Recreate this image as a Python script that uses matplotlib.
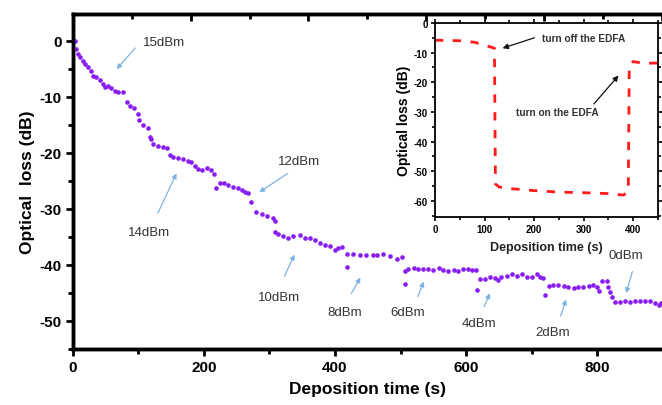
import matplotlib
matplotlib.use("Agg")
import matplotlib.pyplot as plt
from matplotlib.ticker import MultipleLocator, NullFormatter

plt.rcParams['font.family'] = ['Liberation Sans', 'DejaVu Sans']
plt.rcParams['axes.unicode_minus'] = False

# main curve: optical loss vs deposition time
time_s = [1.5, 3, 5.6, 8.1, 10.7, 14.8, 18.3, 23.4, 28.5, 31, 36, 41, 46, 49, 54, 59,
          64, 69, 77, 82, 87, 94, 99, 101, 107, 115, 118, 119, 123, 130, 138, 143,
          148, 153, 161, 168, 176, 181, 186, 191, 197, 204, 211, 216, 218, 224, 231,
          237, 245, 252, 258, 263, 267, 272, 280, 288, 296, 305, 308, 308, 313, 321,
          329, 336, 347, 354, 362, 369, 377, 385, 392, 400, 405, 410, 418, 418, 428,
          438, 448, 458, 464, 474, 484, 494, 502, 507, 507, 512, 520, 527, 535, 542,
          550, 558, 565, 573, 581, 588, 596, 603, 609, 615, 617, 621, 629, 637, 644,
          649, 654, 662, 670, 677, 685, 693, 700, 708, 713, 718, 721, 726, 733, 741,
          749, 756, 764, 771, 779, 787, 794, 800, 803, 807, 815, 817, 820, 822, 827,
          835, 843, 850, 858, 866, 873, 881, 889, 894, 897]
loss_db = [-0.1, -0.05, -1.4, -2.3, -2.9, -3.6, -4.1, -4.7, -5.4, -6.2, -6.5, -7.0,
           -7.7, -8.3, -8.0, -8.4, -9.0, -9.2, -9.2, -10.9, -11.6, -12.0, -13.0, -14.1,
           -15.1, -15.6, -17.1, -17.5, -18.4, -18.7, -18.9, -19.1, -20.3, -20.7, -20.9,
           -21.1, -21.5, -21.7, -22.3, -22.9, -23.0, -22.7, -23.0, -23.7, -26.2, -25.4,
           -25.4, -25.8, -26.1, -26.3, -26.6, -26.9, -27.2, -28.8, -30.6, -30.9, -31.2,
           -31.7, -32.1, -34.2, -34.5, -34.8, -35.1, -34.9, -34.6, -35.1, -35.2, -35.5,
           -36.1, -36.4, -36.7, -37.4, -37.0, -36.8, -38.0, -40.4, -38.0, -38.3, -38.3,
           -38.2, -38.3, -38.0, -38.4, -38.9, -38.6, -41.0, -43.4, -40.7, -40.6, -40.7,
           -40.7, -40.7, -40.9, -40.5, -40.9, -41.0, -40.9, -41.0, -40.8, -40.7, -40.9,
           -40.9, -44.5, -42.5, -42.5, -42.2, -42.3, -42.7, -42.2, -41.9, -41.7, -41.9,
           -41.7, -42.2, -42.1, -41.7, -42.2, -42.3, -45.3, -43.7, -43.5, -43.5, -43.7,
           -44.0, -44.2, -44.0, -44.0, -43.7, -43.5, -44.0, -44.6, -42.8, -42.8, -44.0,
           -44.9, -45.8, -46.7, -46.7, -46.5, -46.6, -46.5, -46.4, -46.4, -46.5, -46.8,
           -47.1, -46.8]

# power labels: text position, arrow start, arrow tip
power_labels = ["15dBm", "14dBm", "12dBm", "10dBm", "8dBm", "6dBm", "4dBm", "2dBm", "0dBm"]
label_xy = [(107, -0.2), (84, -34.1), (313, -21.4), (283, -45.7), (389, -48.4),
            (484, -48.4), (594, -50.4), (705, -52.0), (818, -38.2)]
arrow_from = [(98, -0.9), (128, -31.2), (331, -23.4), (321, -42.5), (423, -45.5),
              (525, -46.1), (626, -47.9), (743, -49.6), (855, -40.7)]
arrow_to = [(64, -5.4), (160, -23.2), (281, -27.3), (340, -37.7), (441, -41.8),
            (537, -42.5), (638, -44.6), (754, -45.7), (843, -45.5)]

# inset: EDFA switched off and on
inset_t = [0, 50, 80, 100, 120, 122, 130, 150, 200, 250, 300, 350, 380, 390, 392, 400, 420, 450]
inset_loss = [-5.8, -6.0, -6.5, -7.5, -8.5, -54.3, -55.3, -55.8, -56.5, -57.0, -57.2,
              -57.5, -58.0, -57.0, -14.0, -13.0, -13.6, -13.5]

fig = plt.figure(figsize=(6.62, 4.06), dpi=100)
ax = fig.add_axes([0.110, 0.138, 0.890, 0.825])

ax.scatter(time_s, loss_db, s=11, color='#8a1ef2', linewidths=0, zorder=3)
ax.set_xlim(0, 899)
ax.set_ylim(-55, 4.8)

ax.xaxis.set_major_locator(MultipleLocator(200))
ax.xaxis.set_minor_locator(MultipleLocator(100))
ax.yaxis.set_major_locator(MultipleLocator(10))
ax.yaxis.set_minor_locator(MultipleLocator(5))
ax.tick_params(which='major', direction='out', length=5, width=2, labelsize=11, pad=3)
ax.tick_params(which='minor', direction='out', length=3.5, width=2)
for lbl in ax.get_xticklabels() + ax.get_yticklabels():
    lbl.set_fontweight('bold')

for side in ['left', 'bottom', 'top']:
    ax.spines[side].set_linewidth(2.5)
ax.spines['right'].set_visible(False)

ax.set_xlabel('Deposition time (s)', fontsize=12.5, fontweight='bold', labelpad=5)
ax.set_ylabel('Optical  loss (dB)', fontsize=12.5, fontweight='bold', labelpad=3)

# ticks along the top edge
top = ax.twiny()
top.set_xlim(0, 1000)
top.xaxis.set_major_locator(MultipleLocator(200))
top.xaxis.set_minor_locator(MultipleLocator(100))
top.xaxis.set_major_formatter(NullFormatter())
top.tick_params(which='major', direction='in', length=5, width=2)
top.tick_params(which='minor', direction='in', length=3.5, width=2)
top.spines['right'].set_visible(False)
for side in ['left', 'bottom', 'top']:
    top.spines[side].set_linewidth(2.5)

for name, xy, p0, p1 in zip(power_labels, label_xy, arrow_from, arrow_to):
    ax.text(xy[0], xy[1], name, fontsize=9.5, color='#333333', va='center', ha='left')
    ax.annotate('', xy=p1, xytext=p0,
                arrowprops=dict(arrowstyle='-|>', color='#7eb2e4', lw=0.9,
                                mutation_scale=7))

# inset
ins = fig.add_axes([0.657, 0.463, 0.337, 0.478])
ins.plot(inset_t, inset_loss, color='#ff1a1a', lw=2.0, linestyle=(0, (3.0, 3.4)))
ins.set_xlim(0, 450)
ins.set_ylim(-65.4, 0)
ins.xaxis.set_major_locator(MultipleLocator(100))
ins.xaxis.set_minor_locator(MultipleLocator(50))
ins.yaxis.set_major_locator(MultipleLocator(10))
ins.yaxis.set_minor_locator(MultipleLocator(5))
ins.tick_params(which='both', direction='out', width=1.2, labelsize=7, pad=2,
                top=True, right=True)
ins.tick_params(which='major', length=3)
ins.tick_params(which='minor', length=2)
for lbl in ins.get_xticklabels() + ins.get_yticklabels():
    lbl.set_fontweight('bold')
for side in ins.spines:
    ins.spines[side].set_linewidth(1.3)
ins.set_xlabel('Deposition time (s)', fontsize=9, fontweight='bold', color='#222222', labelpad=5)
ins.set_ylabel('Optical loss (dB)', fontsize=10, fontweight='bold', labelpad=2)

ins.text(216, -5, 'turn off the EDFA', fontsize=7.3, fontweight='bold', color='#333333',
         va='center', ha='left')
ins.annotate('', xy=(131, -8.8), xytext=(206, -4.7),
             arrowprops=dict(arrowstyle='-|>', color='#111111', lw=0.9, mutation_scale=8))
ins.annotate('', xy=(374, -17), xytext=(317, -28),
             arrowprops=dict(arrowstyle='-|>', color='#111111', lw=0.9, mutation_scale=8))
ins.text(247, -30, 'turn on the EDFA', fontsize=7.3, fontweight='bold', color='#333333',
         ha='center', va='center')

fig.savefig('out.png', dpi=100)
